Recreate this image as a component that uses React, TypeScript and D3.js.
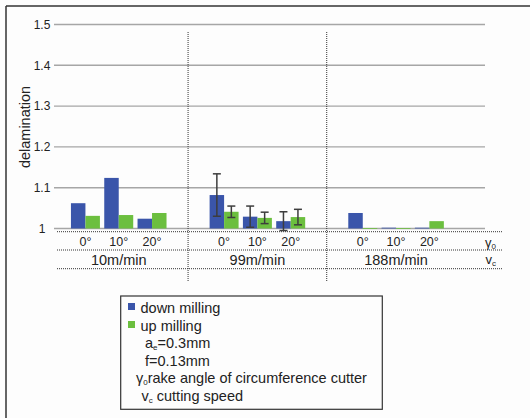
import React from "react";
import * as d3 from "d3";

const speeds = ["10m/min", "99m/min", "188m/min"];
const angles = ["0°", "10°", "20°"];
const series = ["down milling", "up milling"];
// values[speed][angle]
const downValues = [
  [1.062, 1.124, 1.024],
  [1.082, 1.029, 1.018],
  [1.038, 1.002, 1.002],
];
const upValues = [
  [1.031, 1.033, 1.038],
  [1.041, 1.026, 1.028],
  [1.001, 1.001, 1.018],
];
// error bar half-widths (only 99m/min has error bars)
const downErr = [
  [0, 0, 0],
  [0.052, 0.026, 0.023],
  [0, 0, 0],
];
const upErr = [
  [0, 0, 0],
  [0.014, 0.014, 0.019],
  [0, 0, 0],
];
const yTicks = [1, 1.1, 1.2, 1.3, 1.4, 1.5];

const BLUE = "#3a55aa";
const GREEN = "#6cbf3f";
const FONT = "Liberation Sans, Arial, sans-serif";

export default function App() {
  const W = 530, H = 418;
  const y = d3.scaleLinear().domain([1, 1.5]).range([228.5, 24.5]);
  const xGroup = d3.scaleBand<string>().domain(speeds).range([49.4, 465.4]).padding(0);
  const gw = xGroup.bandwidth();
  const xAngle = d3.scaleBand<string>().domain(angles).range([0, gw]).paddingInner(0.13).paddingOuter(0.647);
  const xSeries = d3.scaleBand<string>().domain(series).range([0, xAngle.bandwidth()]).padding(0);
  const bw = xSeries.bandwidth();
  const colors = [BLUE, GREEN];
  const gridX0 = 54, gridX1 = 485;
  const dotX0 = 57, dotX1 = 502;

  const bars: React.ReactNode[] = [];
  speeds.forEach((s, si) => {
    angles.forEach((a, ai) => {
      [downValues, upValues].forEach((vals, k) => {
        const v = vals[si][ai];
        const x = (xGroup(s) as number) + (xAngle(a) as number) + (xSeries(series[k]) as number);
        bars.push(
          <rect key={`b${si}${ai}${k}`} x={x} y={y(v)} width={bw} height={Math.max(0.8, y(1) - y(v))} fill={colors[k]} />
        );
        const e = (k === 0 ? downErr : upErr)[si][ai];
        if (e > 0) {
          const cx = x + bw / 2;
          bars.push(
            <g key={`e${si}${ai}${k}`} stroke="#3d3d3d" strokeWidth={1.5}>
              <line x1={cx} x2={cx} y1={y(v + e)} y2={y(v - e)} />
              <line x1={cx - 4} x2={cx + 4} y1={y(v + e)} y2={y(v + e)} />
              <line x1={cx - 4} x2={cx + 4} y1={y(v - e)} y2={y(v - e)} />
            </g>
          );
        }
      });
    });
  });

  const sepXs = speeds.slice(1).map((s) => xGroup(s) as number);

  return (
    <svg width={W} height={H} style={{ position: "absolute", left: 0, top: 0, background: "#fdfdfd" }} fontFamily={FONT}>
      <rect x={0} y={0} width={W} height={H} fill="#fdfdfd" />
      {/* frame */}
      <line x1={6} x2={6} y1={6} y2={H} stroke="#333" strokeWidth={1.5} />
      <line x1={6} x2={W} y1={6} y2={6} stroke="#333" strokeWidth={1.5} />
      {/* grid */}
      {yTicks.map((t) => (
        <g key={t}>
          <line x1={gridX0} x2={gridX1} y1={y(t)} y2={y(t)} stroke="#a6a6a6" strokeWidth={1.4} />
          <text x={42} y={y(t)} dy="0.35em" textAnchor="middle" fontSize={12} fill="#222">
            {String(t)}
          </text>
        </g>
      ))}
      <text transform={`translate(25,127) rotate(-90)`} textAnchor="middle" dy="0.35em" fontSize={14.5} fill="#222">
        delamination
      </text>
      {/* separators */}
      {sepXs.map((sx, i) => (
        <line key={i} x1={sx} x2={sx} y1={32} y2={282} stroke="#333" strokeWidth={1} strokeDasharray="1,1" />
      ))}
      {bars}
      {/* dotted rows */}
      {[231.7, 250, 268.7].map((yy, i) => (
        <line key={i} x1={dotX0} x2={dotX1} y1={yy} y2={yy} stroke="#333" strokeWidth={1} strokeDasharray="1,1" />
      ))}
      {speeds.map((s) =>
        angles.map((a) => (
          <text key={s + a} x={(xGroup(s) as number) + (xAngle(a) as number) + xAngle.bandwidth() / 2} y={246}
            textAnchor="middle" fontSize={12.5} fill="#222">
            {a}
          </text>
        ))
      )}
      {speeds.map((s) => (
        <text key={s} x={(xGroup(s) as number) + gw / 2} y={265} textAnchor="middle" fontSize={14.5} fill="#222">
          {s}
        </text>
      ))}
      <text x={485} y={247} fontSize={13} fill="#222">
        γ<tspan fontSize={8} dy={2}>0</tspan>
      </text>
      <text x={485.5} y={264} fontSize={13} fill="#222">
        v<tspan fontSize={8} dy={2}>c</tspan>
      </text>
      {/* legend */}
      <rect x={120.7} y={296} width={261.6} height={113.3} fill="#fdfdfd" stroke="#333" strokeWidth={1.2} />
      <rect x={128} y={303} width={7} height={7} fill={BLUE} />
      <rect x={128} y={321} width={7} height={7} fill={GREEN} />
      <g fontSize={14.5} fill="#222">
        <text x={140.5} y={313}>{series[0]}</text>
        <text x={140.5} y={331}>{series[1]}</text>
        <text x={145} y={348}>
          a<tspan fontSize={8} dy={2}>e</tspan><tspan dy={-2}>=0.3mm</tspan>
        </text>
        <text x={145} y={366}>f=0.13mm</text>
        <text x={136} y={383}>
          γ<tspan fontSize={8} dy={2}>0</tspan><tspan dy={-2}>rake angle of circumference cutter</tspan>
        </text>
        <text x={141.5} y={401}>
          v<tspan fontSize={8} dy={2}>c</tspan><tspan dy={-2}> cutting speed</tspan>
        </text>
      </g>
    </svg>
  );
}
